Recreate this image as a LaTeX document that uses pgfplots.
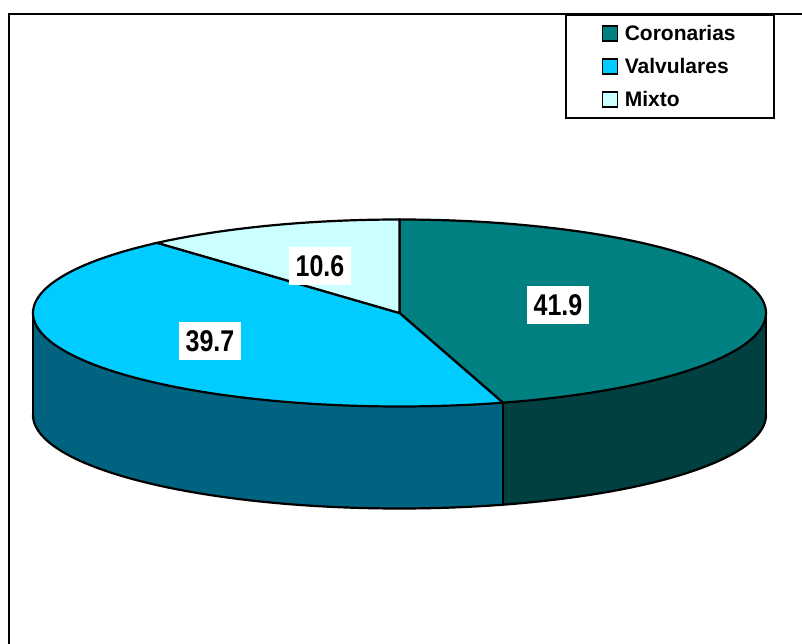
\documentclass[border=0pt]{standalone}
\usepackage{pgfplots}
\pgfplotsset{compat=1.18}
\usepgfplotslibrary{fillbetween}
\usepackage{fontspec}
\setmainfont{Liberation Sans}

\definecolor{coroTop}{HTML}{008080}
\definecolor{coroSide}{HTML}{004040}
\definecolor{valvTop}{HTML}{00CCFF}
\definecolor{valvSide}{HTML}{006380}
\definecolor{mixTop}{HTML}{CCFFFF}

% shares (per cent)
\def\vC{41.9}
\def\vV{39.7}
\def\vM{10.6}
% ellipse geometry of the pie (screen units, y downwards)
\def\cx{399.5}
\def\cy{313}
\def\rx{366.5}
\def\ry{93.5}
\def\dep{102}

\begin{document}
\begin{tikzpicture}
\pgfmathsetmacro\tot{\vC+\vV+\vM}
\pgfmathsetmacro\aCV{90-360*\vC/\tot}
\pgfmathsetmacro\aVM{\aCV-360*\vV/\tot}
\pgfmathsetmacro\xCV{\cx+\rx*cos(\aCV)}
\pgfmathsetmacro\yCV{\cy-\ry*sin(\aCV)}
\pgfmathsetmacro\yCVb{\yCV+\dep}
\pgfmathsetmacro\xL{\cx-\rx}
\pgfmathsetmacro\xR{\cx+\rx}
\pgfmathsetmacro\yB{\cy+\dep}
\begin{axis}[
  width=802pt, height=643pt, scale only axis,
  xmin=0, xmax=802, ymin=0, ymax=643, y dir=reverse,
  hide axis, samples=150,
  legend style={at={(axis description cs:0.7045,0.9782)}, anchor=north west,
    draw=black, line width=1.8pt, fill=white,
    font=\fontsize{21}{25}\selectfont\bfseries,
    inner xsep=36pt, inner ysep=8pt, row sep=12.5pt},
  legend cell align=left,
  legend image code/.code={\draw[#1, line width=1.5pt] (2pt,-7.5pt) rectangle (17pt,7.5pt); \path (21pt,0pt);},
]
\draw[line width=2pt] (axis cs:9,700) -- (axis cs:9,14) -- (axis cs:900,14);

% side walls
\addplot[name path=vT, draw=none, forget plot, domain=-180:\aCV] ({\cx+\rx*cos(x)},{\cy-\ry*sin(x)});
\addplot[name path=vB, draw=none, forget plot, domain=-180:\aCV] ({\cx+\rx*cos(x)},{\cy-\ry*sin(x)+\dep});
\addplot[fill=valvSide, forget plot] fill between[of=vT and vB];
\addplot[name path=cT, draw=none, forget plot, domain=\aCV:0] ({\cx+\rx*cos(x)},{\cy-\ry*sin(x)});
\addplot[name path=cB, draw=none, forget plot, domain=\aCV:0] ({\cx+\rx*cos(x)},{\cy-\ry*sin(x)+\dep});
\addplot[fill=coroSide, forget plot] fill between[of=cT and cB];
\addplot[black, line width=2.2pt, forget plot, domain=-180:0] ({\cx+\rx*cos(x)},{\cy-\ry*sin(x)+\dep});
\addplot[black, line width=2.2pt, forget plot] coordinates {(\xL,\cy) (\xL,\yB)};
\addplot[black, line width=2.2pt, forget plot] coordinates {(\xR,\cy) (\xR,\yB)};
\addplot[black, line width=2.2pt, forget plot] coordinates {(\xCV,\yCV) (\xCV,\yCVb)};

% top faces
\addplot[fill=coroTop, draw=black, line width=2.2pt, domain=\aCV:90] ({\cx+\rx*cos(x)},{\cy-\ry*sin(x)}) -- (axis cs:\cx,\cy) -- cycle;
\addlegendentry{Coronarias}
\addplot[fill=valvTop, draw=black, line width=2.2pt, domain=\aVM:\aCV] ({\cx+\rx*cos(x)},{\cy-\ry*sin(x)}) -- (axis cs:\cx,\cy) -- cycle;
\addlegendentry{Valvulares}
\addplot[fill=mixTop, draw=black, line width=2.2pt, domain=-270:\aVM] ({\cx+\rx*cos(x)},{\cy-\ry*sin(x)}) -- (axis cs:\cx,\cy) -- cycle;
\addlegendentry{Mixto}

% value labels
\tikzset{vlab/.style={fill=white, inner xsep=7pt, inner ysep=8pt, font=\fontsize{25}{30}\selectfont\bfseries}}
\node[vlab] at (axis cs:558,305) {\scalebox{1}[1.2]{\vC}};
\node[vlab] at (axis cs:210,341) {\scalebox{1}[1.2]{\vV}};
\node[vlab] at (axis cs:320,266) {\scalebox{1}[1.2]{\vM}};
\end{axis}
\end{tikzpicture}
\end{document}
